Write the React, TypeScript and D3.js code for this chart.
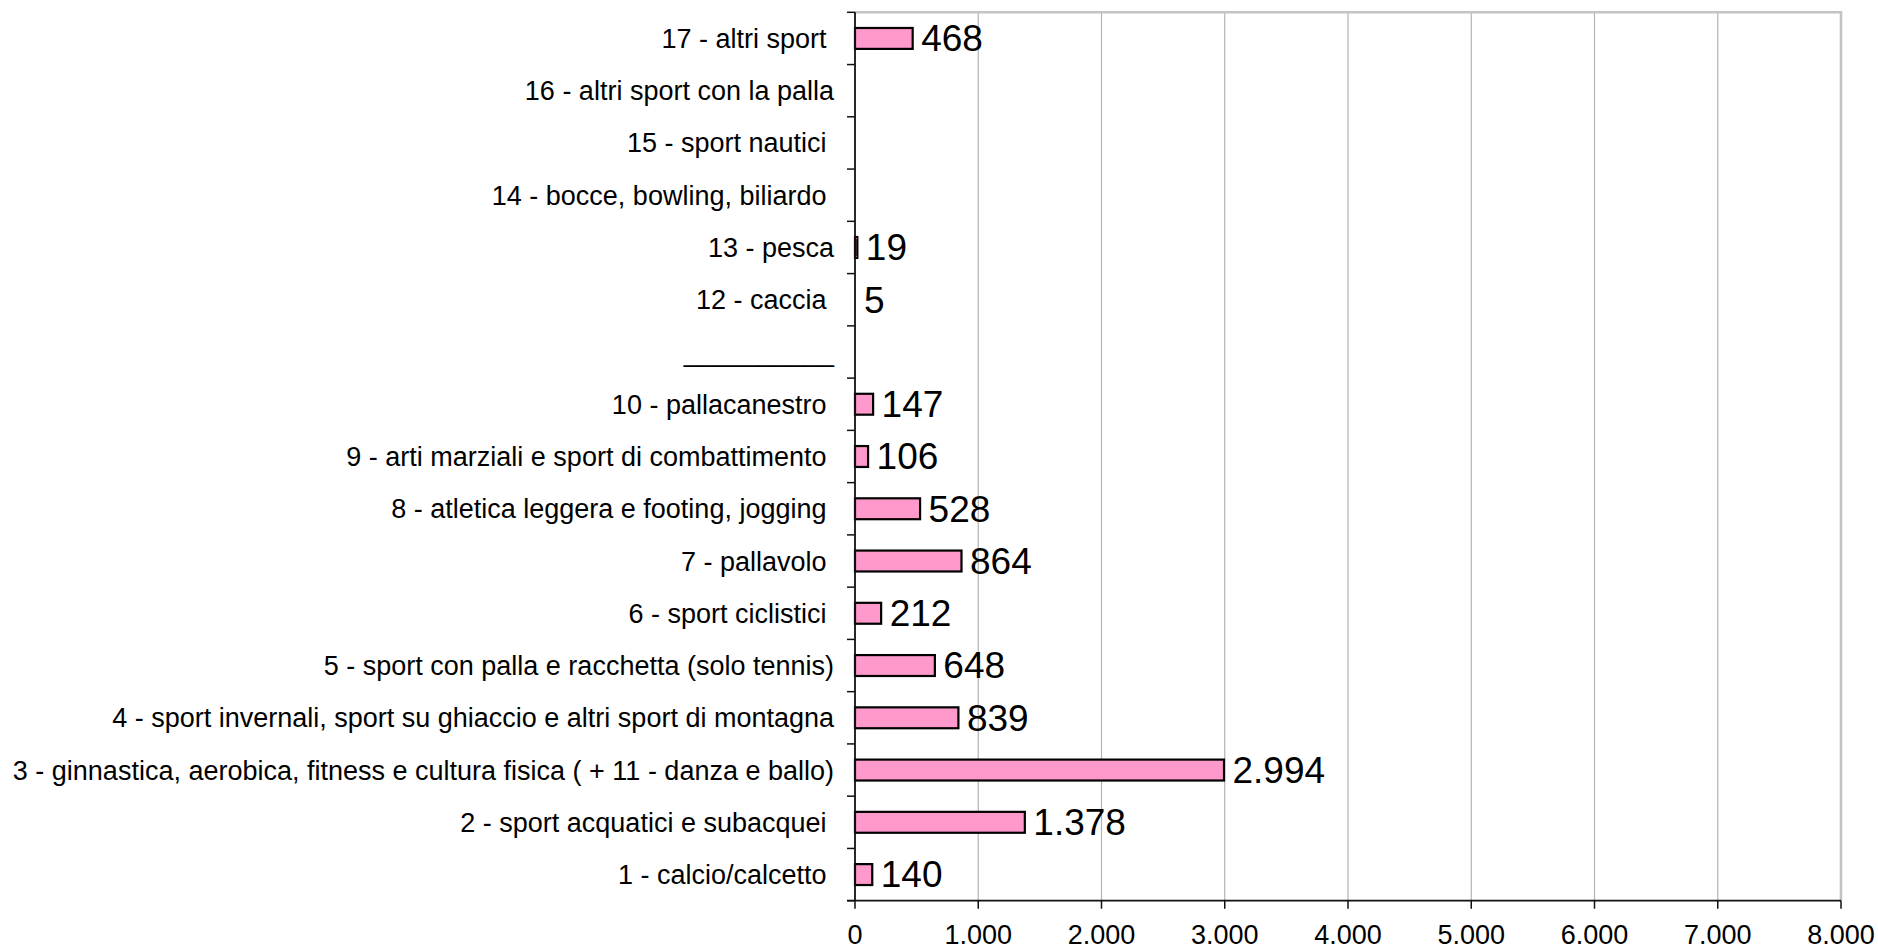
import React from "react";
import * as d3 from "d3";

// Categories, top to bottom (trailing spaces as in the original labels)
const categories: string[] = [
  "17 - altri sport ",
  "16 - altri sport con la palla",
  "15 - sport nautici ",
  "14 - bocce, bowling, biliardo ",
  "13 - pesca",
  "12 - caccia ",
  "__________",
  "10 - pallacanestro ",
  "9 - arti marziali e sport di combattimento ",
  "8 - atletica leggera e footing, jogging ",
  "7 - pallavolo ",
  "6 - sport ciclistici ",
  "5 - sport con palla e racchetta (solo tennis)",
  "4 - sport invernali, sport su ghiaccio e altri sport di montagna",
  "3 - ginnastica, aerobica, fitness e cultura fisica ( + 11 - danza e ballo)",
  "2 - sport acquatici e subacquei ",
  "1 - calcio/calcetto ",
];

const values: (number | null)[] = [
  468, null, null, null, 19, 5, null, 147, 106, 528, 864, 212, 648, 839, 2994, 1378, 140,
];

const xTicks: number[] = [0, 1000, 2000, 3000, 4000, 5000, 6000, 7000, 8000];

const W = 1878;
const H = 951;
const plotLeft = 855;
const plotRight = 1841;
const plotTop = 12.3;
const plotBottom = 900.7;

const itLocale = d3.formatLocale({
  decimal: ",",
  thousands: ".",
  grouping: [3],
  currency: ["", " €"],
});
const fmt = itLocale.format(",d");

const FONT = "'Liberation Sans', Arial, Helvetica, sans-serif";

export default function App() {
  const x = d3.scaleLinear().domain([0, 8000]).range([plotLeft, plotRight]);
  const y = d3
    .scaleBand<string>()
    .domain(categories)
    .range([plotTop, plotBottom])
    .paddingInner(0.6)
    .paddingOuter(0.3);
  const step = y.step();
  const boundaries = d3.range(categories.length + 1).map((i) => plotTop + i * step);

  return (
    <div style={{ position: "absolute", left: 0, top: 0, width: W, height: H, background: "#fff" }}>
      <svg width={W} height={H} style={{ display: "block" }} fontFamily={FONT}>
        <rect x={0} y={0} width={W} height={H} fill="#fff" />
        {/* gridlines */}
        {xTicks.slice(1, -1).map((t) => (
          <line key={"g" + t} x1={x(t)} x2={x(t)} y1={plotTop} y2={plotBottom} stroke="#b3b3b3" strokeWidth={1.2} />
        ))}
        {/* plot border top/right */}
        <line x1={plotLeft} x2={plotRight} y1={plotTop} y2={plotTop} stroke="#c4c4c4" strokeWidth={2.6} />
        <line x1={plotRight} x2={plotRight} y1={plotTop - 1.3} y2={plotBottom} stroke="#c4c4c4" strokeWidth={2.6} />

        {/* bars */}
        {categories.map((c, i) => {
          const v = values[i];
          if (v === null) return null;
          const y0 = y(c)!;
          const w = Math.max(0, x(v) - x(0));
          return (
            <rect
              key={"b" + i}
              x={x(0)}
              y={y0}
              width={w}
              height={y.bandwidth()}
              fill="#ff99cc"
              stroke="#000"
              strokeWidth={w < 1 ? 0 : 2.2}
            />
          );
        })}

        {/* value labels */}
        {categories.map((c, i) => {
          const v = values[i];
          if (v === null) return null;
          const cy = y(c)! + y.bandwidth() / 2;
          return (
            <text key={"v" + i} x={x(v) + 8.5} y={cy + 12.8} fontSize={37} fill="#000">
              {fmt(v)}
            </text>
          );
        })}

        {/* y axis */}
        <line x1={plotLeft} x2={plotLeft} y1={plotTop} y2={plotBottom} stroke="#111" strokeWidth={1.8} />
        {boundaries.map((b, i) => (
          <line key={"yt" + i} x1={plotLeft - 8} x2={plotLeft} y1={b} y2={b} stroke="#111" strokeWidth={1.5} />
        ))}
        {categories.map((c, i) => (
          <text
            key={"l" + i}
            x={834}
            y={y(c)! + y.bandwidth() / 2 + 9.5}
            fontSize={27}
            textAnchor="end"
            fill="#000"
            style={{ whiteSpace: "pre" }}
          >
            {c}
          </text>
        ))}

        {/* x axis */}
        <line x1={plotLeft - 8} x2={plotRight} y1={plotBottom} y2={plotBottom} stroke="#111" strokeWidth={1.8} />
        {xTicks.map((t) => (
          <line key={"xt" + t} x1={x(t)} x2={x(t)} y1={plotBottom} y2={plotBottom + 8} stroke="#111" strokeWidth={1.5} />
        ))}
        {xTicks.map((t) => (
          <text key={"xl" + t} x={x(t)} y={944} fontSize={27} textAnchor="middle" fill="#000">
            {fmt(t)}
          </text>
        ))}
      </svg>
    </div>
  );
}
